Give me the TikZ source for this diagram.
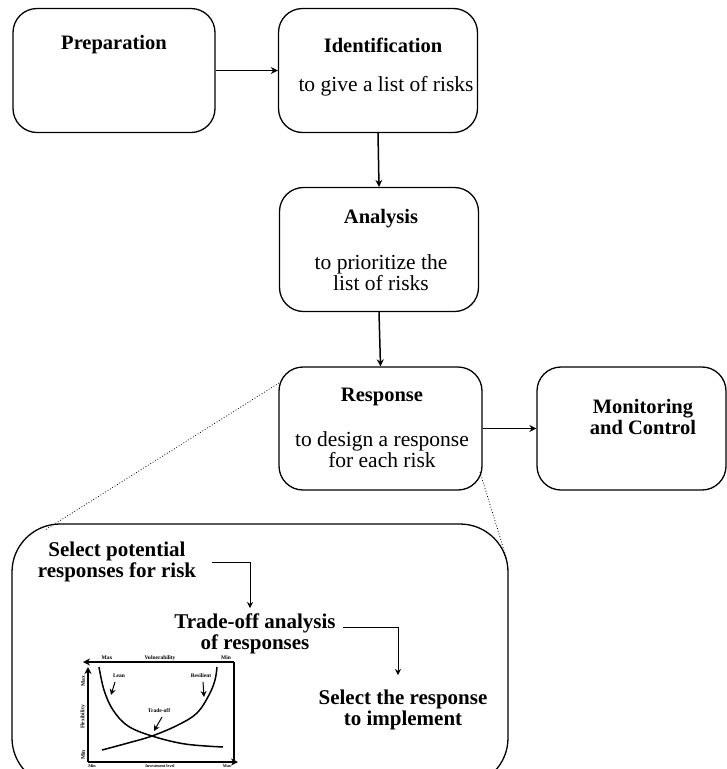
\documentclass[tikz,border=0pt]{standalone}
\usepackage{fontspec}
\setmainfont{Liberation Serif}
\usetikzlibrary{arrows.meta}
\begin{document}
\begin{tikzpicture}[x=1pt,y=-1pt,
  stagebox/.style={draw,line width=1.3pt,rounded corners=24pt,minimum width=#1,minimum height=124pt,inner sep=0pt},
  title/.style={font=\fontsize{20.5}{21}\selectfont\bfseries,inner sep=0pt,align=center},
  desc/.style={font=\fontsize{21.5}{21}\selectfont,inner sep=0pt,align=center},
  flow/.style={line width=1.5pt,-{Stealth[length=7pt,width=7pt]}},
  step2/.style={font=\fontsize{21}{21}\selectfont\bfseries,inner sep=0pt,align=center},
  thin flow/.style={line width=0.9pt,-{Stealth[length=6pt,width=6pt]}},
  tiny/.style={font=\fontsize{5.5}{5.5}\selectfont\bfseries,inner sep=0pt},
  tinier/.style={font=\fontsize{4.2}{4.2}\selectfont\bfseries,inner sep=0pt},
  axis/.style={line width=1.5pt},
  axisarrow/.style={line width=1.5pt,-{Stealth[length=7pt,width=7pt]}},
  curve/.style={line width=1.5pt},
  smallarrow/.style={line width=1pt,-{Stealth[length=6pt,width=6pt]}},
  zoomline/.style={line width=0.8pt,dotted}
]
\useasboundingbox (0,0) rectangle (727,769);
\clip (0,0) rectangle (727,769);

% main stages
\node[stagebox=202pt] (prep) at (114,70.5) {};
\node[stagebox=199pt] (ident) at (378,70.5) {};
\node[stagebox=199pt] (anal) at (379,249.5) {};
\node[stagebox=203pt,minimum height=123pt] (resp) at (380.5,428.5) {};
\node[stagebox=189pt,minimum height=123pt] (mon) at (631.5,428.5) {};

\node[title] (tprep) at (114,45) {Preparation};
\node[title] (tident) at (383,45) {Identification};
\node[desc] (dident) at (386,86) {to give a list of risks};
\node[title] (tanal) at (381,219) {Analysis};
\node[desc] (danal) at (381,273) {to prioritize the\\list of risks};
\node[title] (tresp) at (382,397) {Response};
\node[desc] (dresp) at (382,450) {to design a response\\for each risk};
\node[title] (tmon) at (643,417) {Monitoring\\and Control};

\draw[flow] (prep.east) -- (ident.west);
\draw[flow] (ident.south) -- (anal.north);
\draw[flow] (anal.south) -- (resp.north);
\draw[flow] (resp.east) -- (mon.west);

% zoomed detail box
\node[draw,line width=1.3pt,rounded corners=48pt,minimum width=496pt,minimum height=262pt,inner sep=0pt] (zoom) at (260,655) {};
\coordinate (zl) at (45,530);
\coordinate (zr) at (507,560);
\coordinate (rl) at (279,383);
\coordinate (rr) at (480,472);
\draw[zoomline] (rl) -- (zl);
\draw[zoomline] (rr) -- (zr);

\node[step2] (s1) at (117,562) {Select potential\\responses for risk};
\node[step2] (s2) at (255,634) {Trade-off analysis\\of responses};
\node[step2] (s3) at (403,710) {Select the response\\to implement};
\coordinate (a1) at (212,562);
\coordinate (a2) at (250,608);
\coordinate (b1) at (343,627);
\coordinate (b2) at (398,675);
\draw[thin flow] (a1) -| (a2);
\draw[thin flow] (b1) -| (b2);

% trade-off chart
\coordinate (O) at (88,762);
\coordinate (TL) at (88,662);
\coordinate (TR) at (234,662);
\coordinate (BR) at (234,762);
\draw[axis] (BR) -- (TR);
\draw[axisarrow] (TR) -- ([xshift=-5pt]TL);
\draw[axisarrow] (O) -- ([yshift=-5pt]TL);
\draw[axisarrow] (O) -- ([xshift=4pt]BR);

\node[tiny] (vmax) at (107,658) {Max};
\node[tiny] (vlab) at (160,658) {Vulnerability};
\node[tiny] (vmin) at (226,658) {Min};
\node[tiny,rotate=90] (fmax) at (83,681) {Max};
\node[tiny,rotate=90] (flab) at (83,717) {Flexibility};
\node[tiny,rotate=90] (fmin) at (83,755) {Min};
\node[tinier] (imin) at (92,766.3) {Min};
\node[tinier] (ilab) at (160,766.3) {Investment level};
\node[tinier] (imax) at (227,766.3) {Max};

\draw[curve] plot[smooth,tension=0.6] coordinates {(99,667) (104,690) (113,710) (128,726) (152,736) (185,744) (223,747)};
\draw[curve] plot[smooth,tension=0.6] coordinates {(102,750) (128,743) (152,736) (178,725) (197,713) (209,695) (215,680) (217,667)};

\node[tiny] (llean) at (119,676) {Lean};
\node[tiny] (lres) at (201,676) {Resilient};
\node[tiny] (ltrade) at (159,711) {Trade-off};
\draw[smallarrow] (115,682) -- (111,695);
\draw[smallarrow] (203,682) -- (204,697);
\draw[smallarrow] (162,717) -- (154,731);
\end{tikzpicture}
\end{document}
